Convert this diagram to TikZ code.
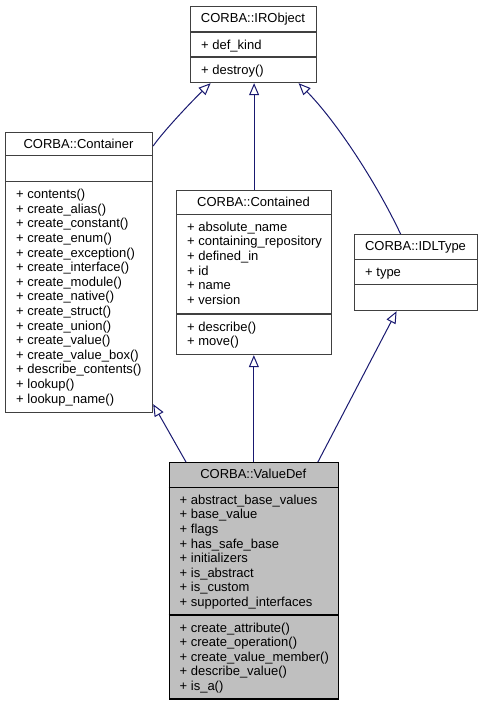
\documentclass[tikz,border=0pt]{standalone}
\usepackage{fontspec}
\setmainfont{Liberation Sans}
\usepackage{tikz}
\usetikzlibrary{arrows.meta,calc}

\definecolor{border}{HTML}{404040}
\definecolor{focus}{HTML}{BFBFBF}
\definecolor{edge}{HTML}{191970}
\newcommand{\classfont}{\fontsize{13}{14.6}\selectfont}

\begin{document}
\begin{tikzpicture}[
    x=1pt,
    y=-1pt,
    classbox/.style={
        rectangle,
        draw=border,
        line width=1.2pt,
        fill=white,
        anchor=north west,
        inner sep=0pt
    },
    focusbox/.style={
        classbox,
        draw=black,
        fill=focus
    },
    sep/.style={
        draw=border,
        line width=1.2pt
    },
    title/.style={
        font=\classfont,
        inner sep=0pt,
        anchor=base
    },
    member/.style={
        font=\classfont,
        inner sep=0pt,
        align=left,
        anchor=north west
    },
    inherit/.style={
        draw=edge,
        line width=1pt,
        {Triangle[open,length=12pt,width=10pt]}-
    }
]
\useasboundingbox (0,0) rectangle (483,705);

% Boxes
\node [classbox, minimum width=126pt, minimum height=76.5pt] (irobject) at (190,5.5) {};
\node [classbox, minimum width=147pt, minimum height=280pt] (container) at (5,131.5) {};
\node [classbox, minimum width=155pt, minimum height=164pt] (contained) at (176,190) {};
\node [classbox, minimum width=123pt, minimum height=76pt] (idltype) at (354,234) {};
\node [focusbox, minimum width=169.5pt, minimum height=236.3pt] (valuedef) at (168.5,462) {};

% Compartments
\draw [sep] ([yshift=-26.5pt]irobject.north west) -- ([yshift=-26.5pt]irobject.north east);
\draw [sep] ([yshift=-51.5pt]irobject.north west) -- ([yshift=-51.5pt]irobject.north east);
\draw [sep] ([yshift=-24.2pt]container.north west) -- ([yshift=-24.2pt]container.north east);
\draw [sep] ([yshift=-50.2pt]container.north west) -- ([yshift=-50.2pt]container.north east);
\draw [sep] ([yshift=-24.3pt]contained.north west) -- ([yshift=-24.3pt]contained.north east);
\draw [sep] ([yshift=-124pt]contained.north west) -- ([yshift=-124pt]contained.north east);
\draw [sep] ([yshift=-25.3pt]idltype.north west) -- ([yshift=-25.3pt]idltype.north east);
\draw [sep] ([yshift=-50.3pt]idltype.north west) -- ([yshift=-50.3pt]idltype.north east);
\draw [sep, draw=black] ([yshift=-25.3pt]valuedef.north west) -- ([yshift=-25.3pt]valuedef.north east);
\draw [sep, draw=black] ([yshift=-153pt]valuedef.north west) -- ([yshift=-153pt]valuedef.north east);

% Texts
\node [title] (irobject-name) at (253,22.1) {CORBA::IRObject};
\node [member] (irobject-attr) at (201,38.6) {\strut+ def\_kind};
\node [member] (irobject-ops) at (201,63.6) {\strut+ destroy()};

\node [title] (container-name) at (78.5,148.1) {CORBA::Container};
\node [member] (container-ops) at (16,188.3) {\strut+ contents()\\+ create\_alias()\\+ create\_constant()\\+ create\_enum()\\+ create\_exception()\\+ create\_interface()\\+ create\_module()\\+ create\_native()\\+ create\_struct()\\+ create\_union()\\+ create\_value()\\+ create\_value\_box()\\+ describe\_contents()\\+ lookup()\\+ lookup\_name()};

\node [title] (contained-name) at (253.5,206.6) {CORBA::Contained};
\node [member] (contained-attr) at (187,220.9) {\strut+ absolute\_name\\+ containing\_repository\\+ defined\_in\\+ id\\+ name\\+ version};
\node [member] (contained-ops) at (187,320.6) {\strut+ describe()\\+ move()};

\node [title] (idltype-name) at (415.5,250.6) {CORBA::IDLType};
\node [member] (idltype-attr) at (365,265.9) {\strut+ type};

\node [title] (valuedef-name) at (253.25,478.6) {CORBA::ValueDef};
\node [member] (valuedef-attr) at (179.5,493.9) {\strut+ abstract\_base\_values\\+ base\_value\\+ flags\\+ has\_safe\_base\\+ initializers\\+ is\_abstract\\+ is\_custom\\+ supported\_interfaces};
\node [member] (valuedef-ops) at (179.5,621.6) {\strut+ create\_attribute()\\+ create\_operation()\\+ create\_value\_member()\\+ describe\_value()\\+ is\_a()};

% Edges
\draw [inherit] ([xshift=-43pt]irobject.south) .. controls (190,103) and (162,133) .. ([yshift=-14.5pt]container.north east);
\draw [inherit] (contained.north |- irobject.south) -- (contained.north);
\draw [inherit] ([xshift=45pt]irobject.south) .. controls (335,120) and (375,180) .. ([xshift=-15.5pt]idltype.north);
\draw [inherit] ([yshift=8.5pt]container.south east) -- ([xshift=17.5pt]valuedef.north west);
\draw [inherit] (valuedef.north |- contained.south) -- (valuedef.north);
\draw [inherit] ([xshift=-19.5pt]idltype.south) -- ([xshift=-21.3pt]valuedef.north east);

\end{tikzpicture}
\end{document}
